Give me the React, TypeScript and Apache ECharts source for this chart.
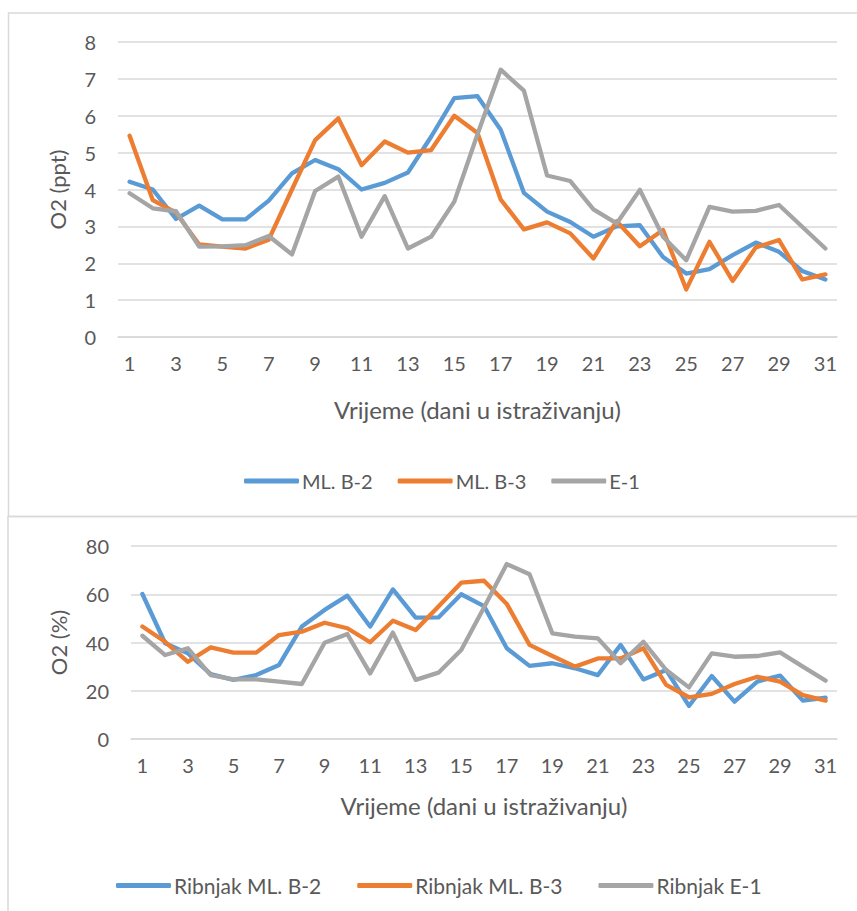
import React, { useEffect, useRef } from "react";
import * as echarts from "echarts";

const days = Array.from({ length: 31 }, (_, i) => String(i + 1));

const topB2 = [4.21, 4.0, 3.2, 3.56, 3.19, 3.19, 3.7, 4.44, 4.8, 4.55, 4.0, 4.18, 4.46, 5.43, 6.48, 6.53, 5.62, 3.91, 3.4, 3.12, 2.72, 3.0, 3.03, 2.17, 1.72, 1.84, 2.22, 2.56, 2.31, 1.79, 1.56];
const topB3 = [5.46, 3.71, 3.37, 2.51, 2.45, 2.4, 2.64, 4.0, 5.34, 5.93, 4.66, 5.3, 5.0, 5.07, 6.0, 5.53, 3.73, 2.92, 3.11, 2.81, 2.13, 3.14, 2.46, 2.9, 1.29, 2.58, 1.52, 2.43, 2.63, 1.56, 1.7];
const topE1 = [3.9, 3.49, 3.41, 2.45, 2.46, 2.49, 2.74, 2.24, 3.96, 4.35, 2.72, 3.82, 2.4, 2.72, 3.67, 5.5, 7.25, 6.68, 4.38, 4.23, 3.46, 3.08, 3.99, 2.72, 2.08, 3.53, 3.4, 3.42, 3.58, 2.99, 2.4];

const botB2 = [60.1, 39.7, 35.5, 26.9, 24.5, 26.5, 30.7, 46.6, 53.5, 59.4, 46.6, 62.0, 50.3, 50.4, 60.0, 55.1, 37.6, 30.3, 31.4, 29.3, 26.5, 39.0, 24.7, 28.6, 13.7, 26.1, 15.5, 23.8, 26.3, 15.9, 17.1];
const botB3 = [46.6, 40.3, 32.0, 38.0, 35.8, 35.8, 43.1, 44.5, 48.2, 45.9, 40.1, 49.0, 45.2, 54.9, 64.8, 65.6, 56.0, 39.0, 34.4, 30.0, 33.4, 33.4, 37.6, 22.4, 17.3, 18.7, 22.8, 25.8, 23.8, 18.2, 15.9];
const botE1 = [42.8, 34.8, 37.6, 26.5, 24.7, 24.7, 23.8, 22.8, 39.9, 43.5, 27.2, 44.1, 24.5, 27.5, 36.9, 54.5, 72.5, 68.3, 43.8, 42.4, 41.7, 31.4, 40.3, 28.6, 21.4, 35.5, 34.1, 34.4, 35.9, 30.0, 24.2];

const topNames = ["ML. B-2", "ML. B-3", "E-1"];
const botNames = ["Ribnjak ML. B-2", "Ribnjak ML. B-3", "Ribnjak E-1"];
const xTitle = "Vrijeme (dani u istraživanju)";
const topYTitle = "O2 (ppt)";
const botYTitle = "O2 (%)";

const COLORS = ["#5B9BD5", "#ED7D31", "#A5A5A5"];
const FONT = "Lato";
const TXT = "#595959";
const GRID = "#D9D9D9";

export default function App() {
  const ref = useRef<HTMLDivElement>(null);
  useEffect(() => {
    if (!ref.current) return;
    const chart = echarts.init(ref.current, undefined, { renderer: "svg" });
    const xAxisBase = (gridIndex: number, gap: number) => ({
      type: "category",
      gridIndex,
      data: days,
      boundaryGap: true,
      axisLine: { show: true, lineStyle: { color: GRID, width: 1.5 } },
      axisTick: { show: false },
      axisLabel: { interval: 1, color: TXT, fontFamily: FONT, fontSize: 20, margin: 16 },
      name: xTitle,
      nameLocation: "middle",
      nameGap: gap,
      nameTextStyle: { color: TXT, fontFamily: FONT, fontSize: 24 },
    });
    const yAxisBase = (gridIndex: number, max: number, interval: number, name: string, gap: number) => ({
      type: "value",
      gridIndex,
      min: 0,
      max,
      interval,
      axisLine: { show: false },
      axisTick: { show: false },
      axisLabel: { color: TXT, fontFamily: FONT, fontSize: 20, margin: 22 },
      splitLine: { lineStyle: { color: GRID, width: 1.5 } },
      name,
      nameLocation: "middle",
      nameGap: gap,
      nameTextStyle: { color: TXT, fontFamily: FONT, fontSize: 22 },
    });
    const lineSeries = (name: string, data: number[], idx: number, axisIdx: number) => ({
      type: "line",
      name,
      data,
      xAxisIndex: axisIdx,
      yAxisIndex: axisIdx,
      symbol: "none",
      lineStyle: { color: COLORS[idx], width: 4.3, join: "round", cap: "round" },
      itemStyle: { color: COLORS[idx] },
    });
    chart.setOption({
      animation: false,
      backgroundColor: "#ffffff",
      graphic: [
        { type: "rect", shape: { x: 8.5, y: 13, width: 900, height: 503.5 }, style: { fill: "none", stroke: GRID, lineWidth: 1.5 } },
        { type: "rect", shape: { x: 8, y: 516.5, width: 900, height: 450 }, style: { fill: "none", stroke: GRID, lineWidth: 1.5 } },
      ],
      grid: [
        { left: 118, right: 20, top: 42, height: 295 },
        { left: 131, right: 20, top: 546, height: 193 },
      ],
      xAxis: [xAxisBase(0, 60), xAxisBase(1, 54)],
      yAxis: [yAxisBase(0, 8, 1, topYTitle, 50), yAxisBase(1, 80, 20, botYTitle, 62)],
      legend: [
        {
          data: topNames,
          left: 239,
          top: 466,
          icon: "roundRect",
          itemWidth: 55,
          itemHeight: 5,
          itemGap: 25,
          textStyle: { color: TXT, fontFamily: FONT, fontSize: 20, padding: [0, 0, 0, -2] },
        },
        {
          data: botNames,
          left: 111,
          top: 870,
          icon: "roundRect",
          itemWidth: 55,
          itemHeight: 5,
          itemGap: 36,
          textStyle: { color: TXT, fontFamily: FONT, fontSize: 21, padding: [0, 0, 0, -2] },
        },
      ],
      series: [
        lineSeries(topNames[0], topB2, 0, 0),
        lineSeries(topNames[1], topB3, 1, 0),
        lineSeries(topNames[2], topE1, 2, 0),
        lineSeries(botNames[0], botB2, 0, 1),
        lineSeries(botNames[1], botB3, 1, 1),
        lineSeries(botNames[2], botE1, 2, 1),
      ],
    });
    return () => chart.dispose();
  }, []);
  return <div ref={ref} style={{ position: "absolute", left: 0, top: 0, width: 857, height: 911 }} />;
}
